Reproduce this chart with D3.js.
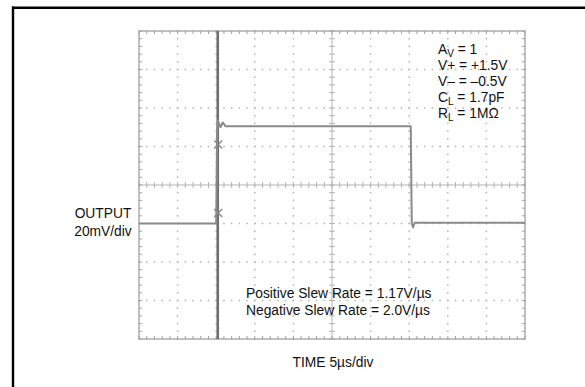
<!DOCTYPE html>
<html>
<head>
<meta charset="utf-8">
<script src="https://cdn.jsdelivr.net/npm/d3@7"></script>
<style>
  html, body { margin: 0; padding: 0; background: #fff; }
  svg { display: block; }
  text { font-family: "Liberation Sans", Arial, sans-serif; fill: #111; }
</style>
</head>
<body>
<svg id="chart" width="585" height="387"></svg>
<script>
// ---- data ----
const timeUs   = [0, 10.0, 10.12, 10.22, 10.55, 10.85, 11.2, 35.2, 35.33, 35.5, 35.7, 50];
const outputMv = [-20, -20, 28, 33.5, 30, 32.5, 30.5, 30.5, -20, -22, -19.6, -19.6];
const cursorTimeUs = [10.2];
const cursorMarkersMv = [21, -14.5];
const timeDivisions = [0, 5, 10, 15, 20, 25, 30, 35, 40, 45, 50];
const voltDivisions = [-80, -60, -40, -20, 0, 20, 40, 60, 80];
const conditionLines = [
  ["A", "V", " = 1"],
  ["V+ = +1.5V"],
  ["V\u2013 = \u20130.5V"],
  ["C", "L", " = 1.7pF"],
  ["R", "L", " = 1M\u03A9"]
];
const slewLines = ["Positive Slew Rate = 1.17V/\u00B5s", "Negative Slew Rate = 2.0V/\u00B5s"];
const yLabel = ["OUTPUT", "20mV/div"];
const xLabel = "TIME 5\u00B5s/div";

// ---- layout ----
const svg = d3.select("#chart");
const pL = 139, pR = 525, pT = 31, pB = 339;
const x = d3.scaleLinear().domain([0, 50]).range([pL, pR]);
const y = d3.scaleLinear().domain([-80, 80]).range([pB, pT]);

// frame
svg.append("line").attr("x1", 13).attr("x2", 13).attr("y1", 6.5).attr("y2", 387)
  .attr("stroke", "#000").attr("stroke-width", 2.4);
svg.append("line").attr("x1", 12).attr("x2", 585).attr("y1", 7.7).attr("y2", 7.7)
  .attr("stroke", "#000").attr("stroke-width", 2.4);

const g = svg.append("g");
const gridCol = "#b4b4b4";
const minorX = d3.range(0, 50.001, 1);
const minorY = d3.range(-80, 80.001, 4);

// interior dotted grid lines
timeDivisions.slice(1, -1).forEach(t => {
  if (t === 25) return;
  minorY.forEach(v => g.append("rect").attr("x", x(t) - 0.75).attr("y", y(v) - 0.75)
    .attr("width", 1.5).attr("height", 1.5).attr("fill", gridCol));
});
voltDivisions.slice(1, -1).forEach(v => {
  if (v === 0) return;
  minorX.forEach(t => g.append("rect").attr("x", x(t) - 0.75).attr("y", y(v) - 0.75)
    .attr("width", 1.5).attr("height", 1.5).attr("fill", gridCol));
});

// center axes with ticks
g.append("line").attr("x1", x(0)).attr("x2", x(50)).attr("y1", y(0)).attr("y2", y(0))
  .attr("stroke", gridCol).attr("stroke-width", 1);
g.append("line").attr("x1", x(25)).attr("x2", x(25)).attr("y1", y(-80)).attr("y2", y(80))
  .attr("stroke", gridCol).attr("stroke-width", 1);
minorX.forEach(t => g.append("line").attr("x1", x(t)).attr("x2", x(t))
  .attr("y1", y(0) - 3).attr("y2", y(0) + 3).attr("stroke", gridCol));
minorY.forEach(v => g.append("line").attr("y1", y(v)).attr("y2", y(v))
  .attr("x1", x(25) - 3).attr("x2", x(25) + 3).attr("stroke", gridCol));

// border with inward ticks
g.append("rect").attr("x", pL).attr("y", pT).attr("width", pR - pL).attr("height", pB - pT)
  .attr("fill", "none").attr("stroke", "#a0a0a0").attr("stroke-width", 1.3);
minorX.forEach(t => {
  g.append("line").attr("x1", x(t)).attr("x2", x(t)).attr("y1", pT).attr("y2", pT + 3).attr("stroke", "#a0a0a0");
  g.append("line").attr("x1", x(t)).attr("x2", x(t)).attr("y1", pB).attr("y2", pB - 3).attr("stroke", "#a0a0a0");
});
minorY.forEach(v => {
  g.append("line").attr("y1", y(v)).attr("y2", y(v)).attr("x1", pL).attr("x2", pL + 3).attr("stroke", "#a0a0a0");
  g.append("line").attr("y1", y(v)).attr("y2", y(v)).attr("x1", pR).attr("x2", pR - 3).attr("stroke", "#a0a0a0");
});

// cursor line
cursorTimeUs.forEach(t => g.append("line").attr("x1", x(t)).attr("x2", x(t))
  .attr("y1", pT).attr("y2", pB).attr("stroke", "#6e6e6e").attr("stroke-width", 2.6));

// trace
const line = d3.line().x(d => x(d[0])).y(d => y(d[1]));
g.append("path").datum(d3.zip(timeUs, outputMv)).attr("d", line)
  .attr("fill", "none").attr("stroke", "#8a8a8a").attr("stroke-width", 2).attr("stroke-linejoin", "round");

// cursor markers (x)
cursorMarkersMv.forEach(v => {
  const cx = x(cursorTimeUs[0]) + 0.5, cy = y(v);
  g.append("path").attr("d", `M${cx-4},${cy-4}L${cx+4},${cy+4}M${cx-4},${cy+4}L${cx+4},${cy-4}`)
    .attr("stroke", "#888").attr("stroke-width", 1.4).attr("fill", "none");
});

// texts
const fs = 13.8;
conditionLines.forEach((parts, i) => {
  const t = svg.append("text").attr("x", 438).attr("y", 53.5 + i * 16.1).attr("font-size", fs);
  if (parts.length === 1) { t.text(parts[0]); }
  else {
    t.append("tspan").text(parts[0]);
    t.append("tspan").attr("font-size", 10).attr("dy", 3).text(parts[1]);
    t.append("tspan").attr("dy", -3).text(parts[2]);
  }
});
slewLines.forEach((s, i) => svg.append("text").attr("x", 246).attr("y", 298 + i * 17)
  .attr("font-size", fs).text(s));
yLabel.forEach((s, i) => svg.append("text").attr("x", 103).attr("y", 217.5 + i * 18)
  .attr("text-anchor", "middle").attr("font-size", fs).text(s));
svg.append("text").attr("x", 333).attr("y", 367).attr("text-anchor", "middle")
  .attr("font-size", fs).text(xLabel);
</script>
</body>
</html>
